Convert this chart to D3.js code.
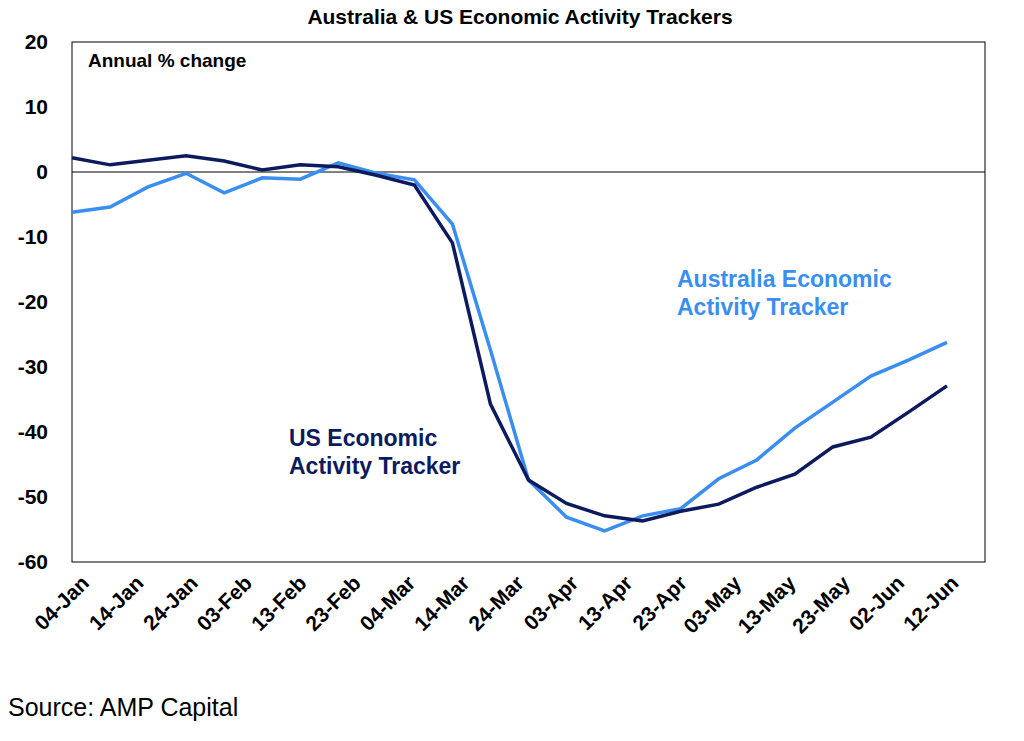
<!DOCTYPE html>
<html><head><meta charset="utf-8">
<script src="https://cdn.jsdelivr.net/npm/d3@7"></script>
<style>body{margin:0;background:#fff}text{font-family:"Liberation Sans",Arial,sans-serif}</style>
</head><body><div id="chart"></div>
<script>
// weekly data points
var dates = ["2020-01-04","2020-01-11","2020-01-18","2020-01-25","2020-02-01","2020-02-08","2020-02-15","2020-02-22","2020-02-29","2020-03-07","2020-03-14","2020-03-21","2020-03-28","2020-04-04","2020-04-11","2020-04-18","2020-04-25","2020-05-02","2020-05-09","2020-05-16","2020-05-23","2020-05-30","2020-06-06","2020-06-13"];
var usVals = [2.2,1.1,1.8,2.5,1.7,0.3,1.1,0.8,-0.5,-2,-10.9,-35.7,-47.4,-51,-52.9,-53.7,-52.2,-51.1,-48.5,-46.5,-42.3,-40.8,-36.9,-32.9];
var auVals = [-6.2,-5.4,-2.3,-0.2,-3.2,-0.9,-1.1,1.4,-0.2,-1.2,-8,-27.4,-47.4,-53.1,-55.2,-52.9,-51.8,-47.2,-44.3,-39.4,-35.4,-31.4,-28.9,-26.2];
var tickDates = ["2020-01-04","2020-01-14","2020-01-24","2020-02-03","2020-02-13","2020-02-23","2020-03-04","2020-03-14","2020-03-24","2020-04-03","2020-04-13","2020-04-23","2020-05-03","2020-05-13","2020-05-23","2020-06-02","2020-06-12"];
var yTicks = [20,10,0,-10,-20,-30,-40,-50,-60];

var parse = d3.utcParse("%Y-%m-%d");
var W = 1024, H = 741, padLeft = 72, padRight = 985, padTop = 42, padBottom = 562;

var svg = d3.select("#chart").append("svg").attr("width", W).attr("height", H);

var x = d3.scaleUtc().domain([parse("2020-01-04"), parse("2020-06-20")]).range([padLeft, padRight]);
var y = d3.scaleLinear().domain([-60, 20]).range([padBottom, padTop]);

svg.append("rect").attr("x", padLeft).attr("y", padTop).attr("width", padRight - padLeft).attr("height", padBottom - padTop)
	.attr("fill", "none").attr("stroke", "#000").attr("stroke-width", 1);

svg.append("text").attr("x", 520).attr("y", 24).attr("text-anchor", "middle")
	.style("font-size", "21px").style("font-weight", "bold").text("Australia & US Economic Activity Trackers");

// y axis labels
svg.append("g").selectAll("text").data(yTicks).enter().append("text")
	.attr("x", 48).attr("y", function(d) { return y(d) + 7; })
	.attr("text-anchor", "end").style("font-size", "21px").style("font-weight", "bold")
	.text(function(d) { return d; });

// zero line
svg.append("line").attr("x1", padLeft).attr("x2", padRight).attr("y1", y(0)).attr("y2", y(0))
	.attr("stroke", "#000").attr("stroke-width", 1);

// x tick labels
var fmt = d3.utcFormat("%d-%b");
svg.append("g").selectAll("text").data(tickDates).enter().append("text")
	.attr("transform", function(d) { return "translate(" + (x(parse(d)) + 8) + "," + (padBottom + 12) + ") rotate(-45)"; })
	.attr("text-anchor", "end").attr("dy", "0.7em").style("font-size", "21px").style("font-weight", "bold")
	.text(function(d) { return fmt(parse(d)); });

svg.append("text").attr("x", 88).attr("y", 67).style("font-size", "19px").style("font-weight", "bold").text("Annual % change");

var line = d3.line().x(function(d) { return x(parse(d[0])); }).y(function(d) { return y(d[1]); });

svg.append("path").datum(d3.zip(dates, auVals)).attr("d", line)
	.attr("fill", "none").attr("stroke", "#3a8ef0").attr("stroke-width", 3.5);
svg.append("path").datum(d3.zip(dates, usVals)).attr("d", line)
	.attr("fill", "none").attr("stroke", "#0c1a5e").attr("stroke-width", 3.5);

svg.append("text").attr("x", 677).attr("y", 287).style("font-size", "23px").style("font-weight", "bold").attr("fill", "#3a8ef0")
	.selectAll("tspan").data(["Australia Economic", "Activity Tracker"]).enter().append("tspan")
	.attr("x", 677).attr("dy", function(d, i) { return i ? 28 : 0; }).text(function(d) { return d; });
svg.append("text").attr("x", 289).attr("y", 446).style("font-size", "23px").style("font-weight", "bold").attr("fill", "#0c1a5e")
	.selectAll("tspan").data(["US Economic", "Activity Tracker"]).enter().append("tspan")
	.attr("x", 289).attr("dy", function(d, i) { return i ? 28 : 0; }).text(function(d) { return d; });

svg.append("text").attr("x", 8).attr("y", 716).style("font-size", "25px").text("Source: AMP Capital");
</script></body></html>
